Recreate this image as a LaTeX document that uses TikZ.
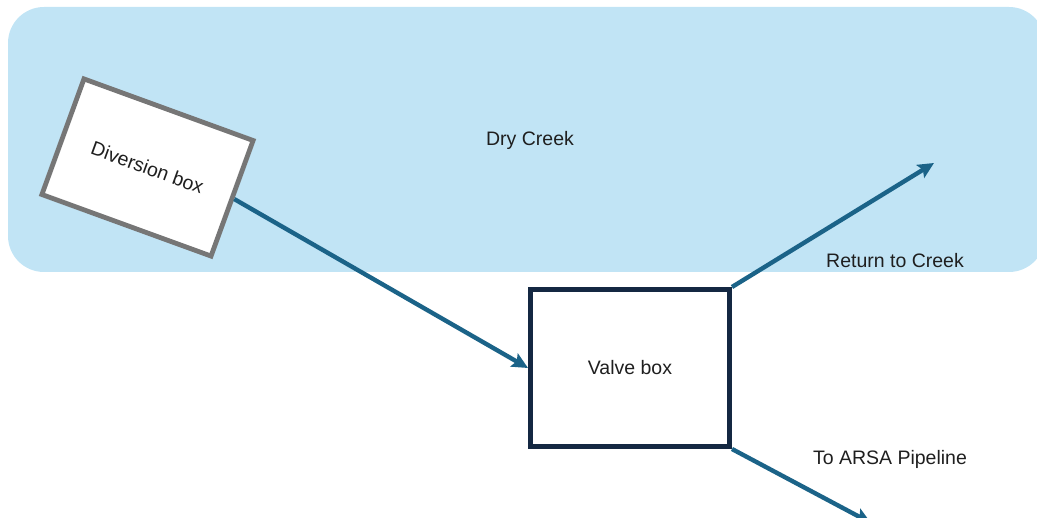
\documentclass[tikz,border=0pt]{standalone}
\usepackage{fontspec}
\setmainfont{Liberation Sans}
\usetikzlibrary{arrows.meta}
\definecolor{creek}{RGB}{193,228,245}
\definecolor{flow}{RGB}{27,99,136}
\definecolor{navy}{RGB}{20,40,66}
\definecolor{boxgray}{RGB}{118,118,118}
\tikzset{
  lbl/.style={font=\fontsize{19.5}{23}\selectfont, text=black!88},
  flowarrow/.style={draw=flow, line width=4.4pt, -{Stealth[length=16pt,width=15pt,inset=3pt]}},
}
\begin{document}
\begin{tikzpicture}[x=1pt,y=-1pt]
\useasboundingbox (0,0) rectangle (1037,518);
\clip (0,0) rectangle (1037,518);
\fill[creek, rounded corners=36pt] (8,7) rectangle (1045,272);
\node[lbl] (creeklbl) at (530,140) {Dry Creek};
\node[lbl, draw=boxgray, line width=4.8pt, fill=white, minimum width=180pt, minimum height=123pt,
      rotate=-20, inner sep=0pt] (div) at (147.5,167.5) {Diversion box};
\node[lbl, draw=navy, line width=5pt, fill=white, minimum width=199pt, minimum height=157pt,
      inner sep=0pt] (valve) at (630,368) {Valve box};
\coordinate (ret) at (934,163);
\coordinate (arsa) at (871,523);
\node[lbl] (retlbl) at (895,261) {Return to Creek};
\node[lbl] (arsalbl) at (890,459) {To ARSA Pipeline};
\draw[flowarrow] (div.east) -- (valve.west);
\draw[flowarrow] (valve.north east) -- (ret);
\draw[flowarrow] (valve.south east) -- (arsa);
\end{tikzpicture}
\end{document}
